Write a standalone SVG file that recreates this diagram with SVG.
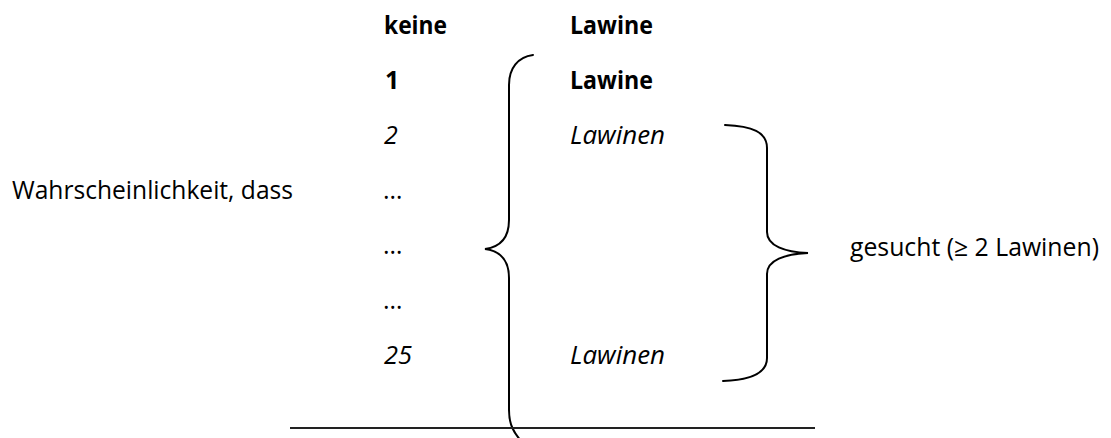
<svg xmlns="http://www.w3.org/2000/svg" width="1111" height="438" viewBox="0 0 1111 438">
<style>
text { font-family: "Open Sans", "Noto Sans", "Liberation Sans", sans-serif; font-size: 25px; fill: #000; }
.b { font-weight: bold; }
.i { font-style: italic; }
.brace { fill: none; stroke: #000; stroke-width: 2; stroke-linecap: round; }
.rule { stroke: #222; stroke-width: 2; }
</style>
<rect width="1111" height="438" fill="#fff"/>
<g id="label-left">
<text x="12" y="199" textLength="281" lengthAdjust="spacingAndGlyphs">Wahrscheinlichkeit, dass</text>
</g>
<g id="row-keine">
<text class="b" x="384" y="34" textLength="63" lengthAdjust="spacingAndGlyphs">keine</text>
<text class="b" x="570" y="34" textLength="83" lengthAdjust="spacingAndGlyphs">Lawine</text>
</g>
<g id="row-1">
<text class="b" x="385" y="89">1</text>
<text class="b" x="570" y="89" textLength="83" lengthAdjust="spacingAndGlyphs">Lawine</text>
</g>
<g id="row-2">
<text class="i" x="384" y="144">2</text>
<text class="i" x="570" y="144" textLength="95" lengthAdjust="spacingAndGlyphs">Lawinen</text>
</g>
<g id="row-dots">
<text x="383" y="199">…</text>
<text x="383" y="254">…</text>
<text x="383" y="309">…</text>
</g>
<g id="row-25">
<text class="i" x="384" y="364" textLength="28" lengthAdjust="spacingAndGlyphs">25</text>
<text class="i" x="570" y="364" textLength="95" lengthAdjust="spacingAndGlyphs">Lawinen</text>
</g>
<g id="label-right">
<text x="850" y="256" textLength="249" lengthAdjust="spacingAndGlyphs">gesucht (≥ 2 Lawinen)</text>
</g>
<g id="connectors">
<path class="brace" d="M533,55 C518,57 509,68 509,85 L509,220 C509,238 500,247 485,249 C500,251 509,260 509,278 L509,410 C509,425 514,433 522,442"/>
<path class="brace" d="M725,125 C752,126 767,132 767,148 L767,232 C767,246 785,252 808,253 C785,254 767,260 767,274 L767,358 C767,372 752,380 723,381"/>
<line class="rule" x1="290" y1="428" x2="815" y2="428"/>
</g>
</svg>
